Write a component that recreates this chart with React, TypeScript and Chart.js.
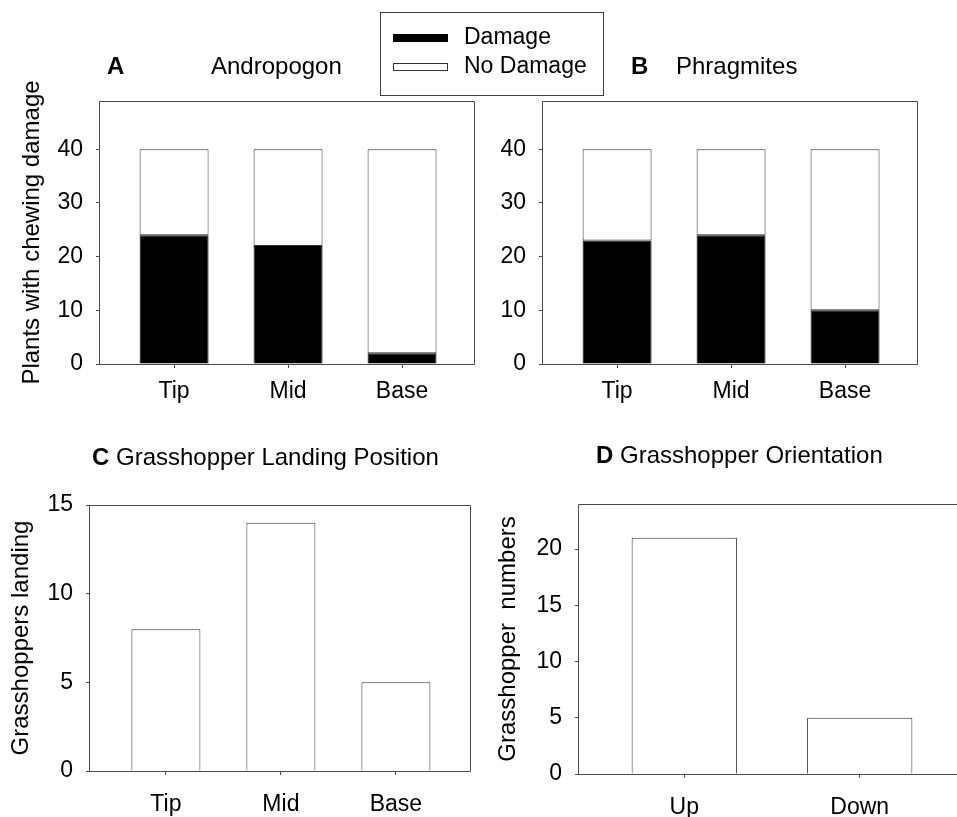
import React, { useEffect, useRef } from "react";
import { Chart, registerables } from "chart.js";

Chart.register(...registerables);

// ---------- data ----------
const POSITIONS = ["Tip", "Mid", "Base"];
const ANDRO_DAMAGE = [24, 22, 2];
const ANDRO_NO_DAMAGE = [16, 18, 38];
const PHRAG_DAMAGE = [23, 24, 10];
const PHRAG_NO_DAMAGE = [17, 16, 30];
const LANDING = [8, 14, 5];
const ORIENTATIONS = ["Up", "Down"];
const ORIENTATION_COUNTS = [21, 5];
const TICKS_AB = [0, 10, 20, 30, 40];
const TICKS_C = [0, 5, 10, 15];
const TICKS_D = [0, 5, 10, 15, 20];

// ---------- styles ----------
const FONT = "'Liberation Sans', Arial, Helvetica, sans-serif";
const LINE = "#4a4a4a";
const BAR_LINE = "#333333";
const TICK_FONT = { family: FONT, size: 23 };
const TITLE_FONT = { family: FONT, size: 24 };

const xy = (values: number[]) => values.map((v, i) => ({ x: i, y: v }));

// ---------- plugins ----------
const framePlugin = {
  id: "frame",
  afterDatasetsDraw(chart: any, _args: any, opts: any) {
    const { ctx, chartArea: a } = chart;
    ctx.save();
    ctx.strokeStyle = opts.color || LINE;
    ctx.lineWidth = 1;
    ctx.beginPath();
    ctx.rect(
      Math.round(a.left) - 0.5,
      Math.round(a.top) + 0.5,
      Math.round(a.right - a.left),
      Math.round(a.bottom - a.top)
    );
    ctx.stroke();
    ctx.restore();
  },
};

const panelTitlePlugin = {
  id: "panelTitle",
  afterDraw(chart: any, _args: any, opts: any) {
    const parts = opts && opts.parts;
    if (!parts) return;
    const { ctx, chartArea: a } = chart;
    ctx.save();
    ctx.fillStyle = "#000";
    ctx.textBaseline = "middle";
    ctx.textAlign = "left";
    let cursor = a.left;
    for (const p of parts) {
      ctx.font = `${p.bold ? "bold " : ""}${opts.size}px ${FONT}`;
      const x = p.dx != null ? a.left + p.dx : cursor;
      ctx.fillText(p.text, x, a.top - opts.dy);
      cursor = x + ctx.measureText(p.text).width;
    }
    ctx.restore();
  },
};

const boxLegendPlugin = {
  id: "boxLegend",
  afterDraw(chart: any, _args: any, opts: any) {
    if (!opts || !opts.display) return;
    const { ctx } = chart;
    ctx.save();
    ctx.lineWidth = 1;
    ctx.strokeStyle = opts.borderColor;
    ctx.strokeRect(opts.x + 0.5, opts.y + 0.5, opts.width, opts.height);
    ctx.font = `${opts.size}px ${FONT}`;
    ctx.textBaseline = "middle";
    ctx.textAlign = "left";
    chart.data.datasets.forEach((ds: any, i: number) => {
      const cy = opts.y + opts.firstRow + i * opts.rowGap;
      const sx = opts.x + opts.symX;
      const sy = Math.round(cy - opts.symH / 2);
      ctx.fillStyle = ds.borderColor;
      ctx.fillRect(sx, sy, opts.symW, opts.symH);
      ctx.fillStyle = ds.backgroundColor;
      ctx.fillRect(sx + 1, sy + 1, opts.symW - 2, opts.symH - 2);
      ctx.fillStyle = "#000";
      ctx.fillText(ds.label, opts.x + opts.textX, cy);
    });
    ctx.restore();
  },
};

Chart.register(framePlugin, panelTitlePlugin, boxLegendPlugin);

// ---------- config builder ----------
function makeConfig(p: any) {
  return {
    type: "bar",
    data: { datasets: p.datasets },
    options: {
      animation: false,
      responsive: false,
      maintainAspectRatio: false,
      events: [],
      layout: { padding: p.padding },
      datasets: { bar: { barPercentage: p.barPct, categoryPercentage: 1 } },
      plugins: {
        legend: { display: false },
        tooltip: { enabled: false },
        frame: { color: LINE },
        panelTitle: p.title,
        boxLegend: p.legend || { display: false },
      },
      scales: {
        x: {
          type: "linear",
          min: p.xMin,
          max: p.xMax,
          offset: false,
          bounds: "data",
          stacked: true,
          afterBuildTicks: (s: any) => {
            s.ticks = p.cats.map((_: string, i: number) => ({ value: i }));
          },
          afterFit: (s: any) => {
            s.height = p.xHeight;
          },
          ticks: {
            callback: (v: number) => p.cats[v],
            font: TICK_FONT,
            color: "#000",
            padding: p.xPad,
            maxRotation: 0,
            autoSkip: false,
            includeBounds: false,
          },
          grid: { offset: false, drawOnChartArea: false, drawTicks: true, tickLength: 4, color: LINE },
          border: { display: false },
        },
        y: {
          type: "linear",
          min: 0,
          max: p.yMax,
          stacked: true,
          afterBuildTicks: (s: any) => {
            s.ticks = p.yTicks.map((v: number) => ({ value: v }));
          },
          afterFit: (s: any) => {
            s.width = p.yWidth;
          },
          ticks: { font: TICK_FONT, color: "#000", padding: 13 },
          grid: { drawOnChartArea: false, drawTicks: true, tickLength: 4, color: LINE },
          border: { display: false },
          title: p.yTitle
            ? { display: true, text: p.yTitle, font: TITLE_FONT, color: "#000", padding: { top: p.yTitlePad, bottom: 0 } }
            : { display: false },
        },
      },
    },
  };
}

const damageSet = (data: number[]) => ({
  label: "Damage",
  data: xy(data),
  backgroundColor: "#000000",
  borderColor: "#000000",
  borderWidth: 1,
});
const noDamageSet = (data: number[]) => ({
  label: "No Damage",
  data: xy(data),
  backgroundColor: "#ffffff",
  borderColor: BAR_LINE,
  borderWidth: 1,
  borderSkipped: false,
});
const plainSet = (label: string, data: number[]) => ({
  label,
  data: xy(data),
  backgroundColor: "#ffffff",
  borderColor: BAR_LINE,
  borderWidth: 1,
  borderSkipped: "start",
});

const PANELS = [
  {
    key: "A",
    left: 0,
    top: 0,
    width: 620,
    height: 420,
    cfg: () =>
      makeConfig({
        datasets: [damageSet(ANDRO_DAMAGE), noDamageSet(ANDRO_NO_DAMAGE)],
        cats: POSITIONS,
        padding: { top: 101, right: 145, left: 0, bottom: 0 },
        barPct: 0.605,
        xMin: -0.65,
        xMax: 2.64,
        xHeight: 56,
        xPad: 10,
        yMax: 49,
        yTicks: TICKS_AB,
        yWidth: 100,
        yTitle: "Plants with chewing damage",
        yTitlePad: 18,
        title: {
          size: 24,
          dy: 34,
          parts: [
            { text: "A", bold: true, dx: 7 },
            { text: "Andropogon", dx: 111 },
          ],
        },
        legend: {
          display: true,
          x: 380,
          y: 12,
          width: 223,
          height: 83,
          borderColor: "#404040",
          size: 23,
          firstRow: 26,
          rowGap: 29,
          symX: 13,
          symW: 55,
          symH: 8,
          textX: 84,
        },
      }),
  },
  {
    key: "B",
    left: 477,
    top: 0,
    width: 480,
    height: 420,
    cfg: () =>
      makeConfig({
        datasets: [damageSet(PHRAG_DAMAGE), noDamageSet(PHRAG_NO_DAMAGE)],
        cats: POSITIONS,
        padding: { top: 101, right: 39, left: 0, bottom: 0 },
        barPct: 0.605,
        xMin: -0.65,
        xMax: 2.64,
        xHeight: 56,
        xPad: 10,
        yMax: 49,
        yTicks: TICKS_AB,
        yWidth: 66,
        title: {
          size: 24,
          dy: 34,
          parts: [
            { text: "B", bold: true, dx: 88 },
            { text: "Phragmites", dx: 133 },
          ],
        },
      }),
  },
  {
    key: "C",
    left: 0,
    top: 420,
    width: 477,
    height: 397,
    cfg: () =>
      makeConfig({
        datasets: [plainSet("Grasshoppers landing", LANDING)],
        cats: POSITIONS,
        padding: { top: 85, right: 6, left: 0, bottom: 0 },
        barPct: 0.6,
        xMin: -0.66,
        xMax: 2.653,
        xHeight: 46,
        xPad: 16,
        yMax: 15,
        yTicks: TICKS_C,
        yWidth: 90,
        yTitle: "Grasshoppers landing",
        yTitlePad: 7,
        title: {
          size: 24,
          dy: 47,
          parts: [
            { text: "C", bold: true, dx: 2 },
            { text: " Grasshopper Landing Position" },
          ],
        },
      }),
  },
  {
    key: "D",
    left: 477,
    top: 420,
    width: 500,
    height: 397,
    cfg: () =>
      makeConfig({
        datasets: [plainSet("Grasshopper numbers", ORIENTATION_COUNTS)],
        cats: ORIENTATIONS,
        padding: { top: 84, right: 12, left: 0, bottom: 0 },
        barPct: 0.6,
        xMin: -0.6,
        xMax: 1.6,
        xHeight: 43,
        xPad: 16,
        yMax: 24,
        yTicks: TICKS_D,
        yWidth: 102,
        yTitle: "Grasshopper  numbers",
        yTitlePad: 17,
        title: {
          size: 24,
          dy: 48,
          parts: [
            { text: "D", bold: true, dx: 17 },
            { text: " Grasshopper Orientation" },
          ],
        },
      }),
  },
];

function Panel({ left, top, width, height, cfg }: any) {
  const ref = useRef<HTMLCanvasElement>(null);
  useEffect(() => {
    const chart = new Chart(ref.current as HTMLCanvasElement, cfg() as any);
    return () => chart.destroy();
  }, []);
  return (
    <canvas
      ref={ref}
      width={width}
      height={height}
      style={{ position: "absolute", left, top, width, height, display: "block" }}
    />
  );
}

export default function App() {
  return (
    <div
      style={{
        position: "fixed",
        left: 0,
        top: 0,
        width: 957,
        height: 817,
        overflow: "hidden",
        background: "#ffffff",
      }}
    >
      {PANELS.map((p) => (
        <Panel key={p.key} {...p} />
      ))}
    </div>
  );
}
